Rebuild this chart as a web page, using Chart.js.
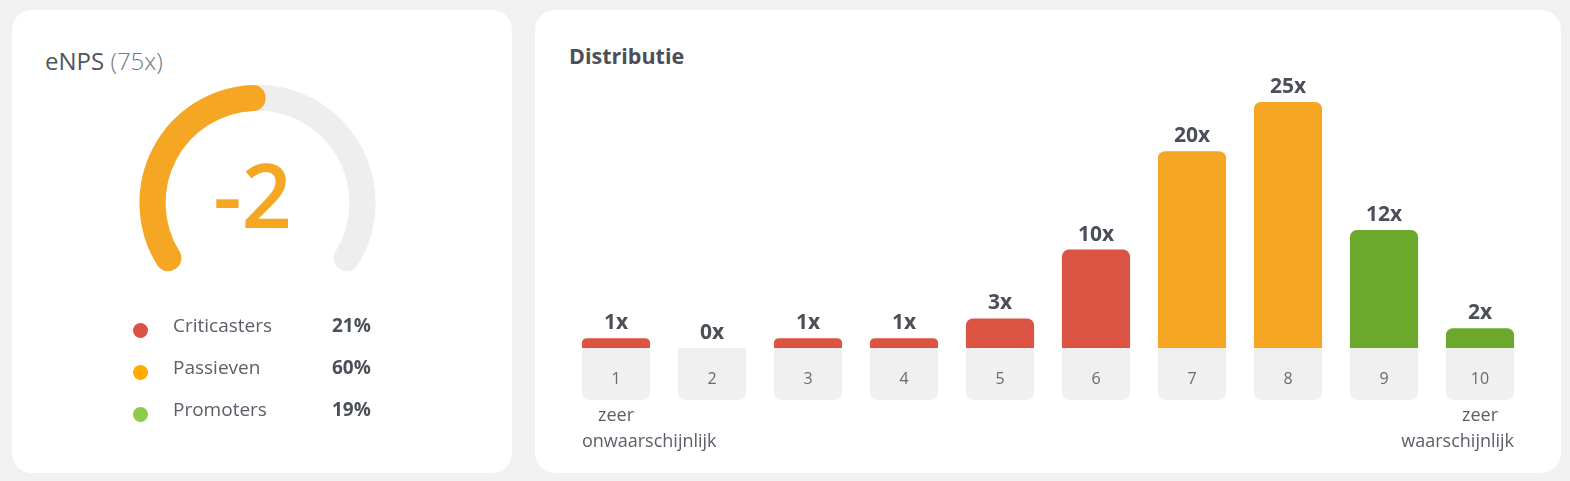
<!DOCTYPE html>
<html>
<head>
<meta charset="utf-8">
<script src="https://cdn.jsdelivr.net/npm/chart.js@4.4.1/dist/chart.umd.min.js"></script>
<style>
  html, body { margin: 0; padding: 0; background: #f1f1f1; width: 1570px; height: 481px; overflow: hidden; font-family: "Open Sans", sans-serif; }
  .card { position: absolute; background: #fff; border-radius: 20px; }
  #left { left: 12px; top: 10px; width: 500px; height: 463px; }
  #right { left: 535px; top: 10px; width: 1026px; height: 463px; }
  .abs { position: absolute; white-space: nowrap; line-height: normal; }
  #enps-title { left: 33px; top: 34px; font-size: 24px; color: #4f555c; }
  #enps-title span { font-weight: 300; color: #737980; }
  #gauge-track, #gauge-value { position: absolute; left: 95px; top: 18px; }
  .dot { position: absolute; width: 15px; height: 15px; border-radius: 50%; }
  .lbl { font-size: 19px; color: #5b6067; }
  .pct { font-size: 19px; font-weight: 700; color: #4b5058; }
  #dist-title { left: 34px; top: 31px; font-size: 21.5px; font-weight: 700; color: #4b5058; }
  #bars { position: absolute; left: 0; top: 0; }
</style>
</head>
<body>
<div class="card" id="left">
  <div class="abs" id="enps-title"></div>
  <canvas id="gauge-track" width="301" height="300"></canvas>
  <canvas id="gauge-value" width="301" height="300"></canvas>
  <div id="legend"></div>
</div>
<div class="card" id="right">
  <div class="abs" id="dist-title">Distributie</div>
  <canvas id="bars" width="1026" height="463"></canvas>
</div>
<script>
// eNPS summary
const enpsScore = -2;
const responses = 75;
const groups = ["Criticasters", "Passieven", "Promoters"];
const groupShares = [21, 60, 19];
const groupColors = ["#dc5143", "#ffab00", "#8ecb48"];

// distribution of scores
const scores = ["1", "2", "3", "4", "5", "6", "7", "8", "9", "10"];
const counts = [1, 0, 1, 1, 3, 10, 20, 25, 12, 2];
const lowLabel = ["zeer", "onwaarschijnlijk"];
const highLabel = ["zeer", "waarschijnlijk"];

const ORANGE = "#f5a623";

document.getElementById("enps-title").innerHTML = "eNPS <span>(" + responses + "x)</span>";

// legend rows
const legend = document.getElementById("legend");
groups.forEach(function (g, i) {
  const top = 302 + i * 42;
  legend.innerHTML +=
    '<div class="dot" style="left:121px;top:' + (top + 11) + 'px;background:' + groupColors[i] + '"></div>' +
    '<div class="abs lbl" style="left:161px;top:' + top + 'px">' + g + '</div>' +
    '<div class="abs pct" style="left:320px;top:' + top + 'px">' + groupShares[i] + '%</div>';
});

// gauge: grey track + orange value arc
const gaugeOpts = {
  responsive: false,
  animation: false,
  events: [],
  rotation: -122,
  circumference: 244,
  radius: 105.5,
  cutout: "99%",
  plugins: { legend: { display: false }, tooltip: { enabled: false } }
};

new Chart("gauge-track", {
  type: "doughnut",
  data: {
    datasets: [{
      data: [1],
      backgroundColor: "#eeeeee",
      borderColor: "#eeeeee",
      borderWidth: 25,
      borderJoinStyle: "round"
    }]
  },
  options: gaugeOpts
});

const centerText = {
  id: "centerText",
  afterDraw(chart) {
    const arc = chart.getDatasetMeta(0).data[0];
    const ctx = chart.ctx;
    ctx.save();
    ctx.font = '600 88px "Open Sans"';
    ctx.fillStyle = ORANGE;
    ctx.textAlign = "center";
    ctx.textBaseline = "alphabetic";
    ctx.fillText(String(enpsScore), arc.x - 5, arc.y + 25);
    ctx.restore();
  }
};

new Chart("gauge-value", {
  type: "doughnut",
  data: {
    datasets: [{
      data: [enpsScore + 100, 100 - enpsScore],
      backgroundColor: [ORANGE, "rgba(0,0,0,0)"],
      borderColor: [ORANGE, "rgba(0,0,0,0)"],
      borderWidth: [25, 0],
      borderJoinStyle: "round"
    }]
  },
  options: gaugeOpts,
  plugins: [centerText]
});

// distribution bars
function barColor(s) {
  const n = Number(s);
  if (n <= 6) return "#db5343";
  if (n <= 8) return "#f5a623";
  return "#6ca82c";
}

const scoreBoxes = {
  id: "scoreBoxes",
  beforeDatasetsDraw(chart) {
    const ctx = chart.ctx;
    const y0 = chart.scales.y.getPixelForValue(0);
    const bars = chart.getDatasetMeta(0).data;
    ctx.save();
    bars.forEach(function (bar, i) {
      const w = bar.width;
      ctx.fillStyle = "#f0f0f0";
      ctx.beginPath();
      ctx.roundRect(bar.x - w / 2, y0, w, 52, [0, 0, 8, 8]);
      ctx.fill();
      ctx.fillStyle = "#6a6a6a";
      ctx.font = '400 16px "Open Sans"';
      ctx.textAlign = "center";
      ctx.fillText(chart.data.labels[i], bar.x, y0 + 36);
    });
    // captions under the extremes
    ctx.font = '400 18px "Open Sans"';
    ctx.fillStyle = "#5b6067";
    const first = bars[0], last = bars[bars.length - 1];
    ctx.textAlign = "center";
    ctx.fillText(lowLabel[0], first.x, y0 + 73);
    ctx.fillText(highLabel[0], last.x, y0 + 73);
    ctx.textAlign = "left";
    ctx.fillText(lowLabel[1], first.x - first.width / 2, y0 + 99);
    ctx.textAlign = "right";
    ctx.fillText(highLabel[1], last.x + last.width / 2, y0 + 99);
    ctx.restore();
  },
  afterDatasetsDraw(chart) {
    const ctx = chart.ctx;
    const ds = chart.data.datasets[0];
    ctx.save();
    ctx.font = '700 21px "Open Sans"';
    ctx.fillStyle = "#4b5058";
    ctx.textAlign = "center";
    chart.getDatasetMeta(0).data.forEach(function (bar, i) {
      ctx.fillText(ds.data[i] + "x", bar.x, bar.y - 9);
    });
    ctx.restore();
  }
};

new Chart("bars", {
  type: "bar",
  data: {
    labels: scores,
    datasets: [{
      data: counts,
      backgroundColor: scores.map(barColor),
      borderRadius: 7,
      barPercentage: 0.71,
      categoryPercentage: 1
    }]
  },
  options: {
    responsive: false,
    animation: false,
    events: [],
    layout: { padding: { left: 33, right: 33, top: 92, bottom: 125 } },
    scales: {
      x: { display: false },
      y: { display: false, min: 0, max: 25 }
    },
    plugins: { legend: { display: false }, tooltip: { enabled: false } }
  },
  plugins: [scoreBoxes]
});
</script>
</body>
</html>
